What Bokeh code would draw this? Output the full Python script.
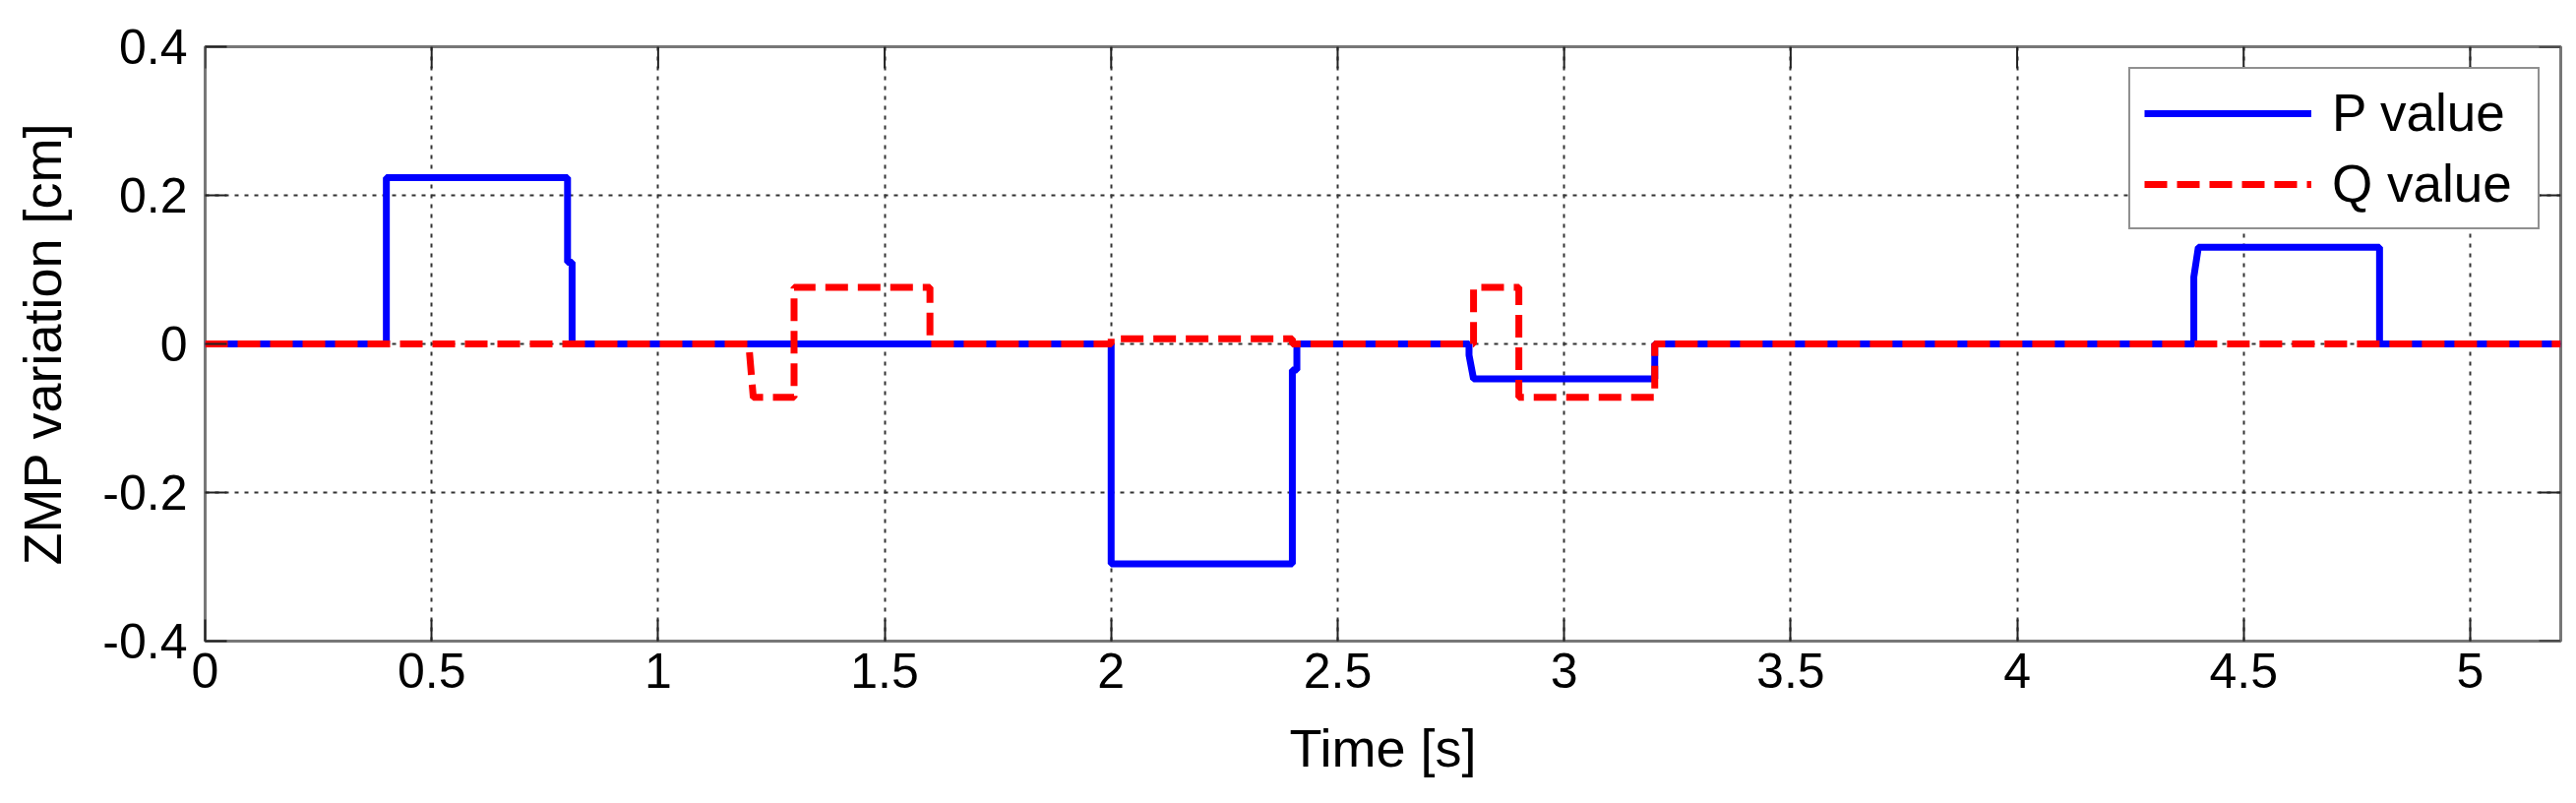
import math
from bokeh.plotting import figure
from bokeh.models import FixedTicker, CustomJSTickFormatter, Legend, LegendItem, Range1d
from bokeh.embed import file_html
from bokeh.resources import INLINE

# ---- data ----
p_time = [0.0, 0.40, 0.40, 0.80, 0.80, 0.81, 0.81, 2.00, 2.00, 2.40, 2.40, 2.41, 2.41,
          2.79, 2.79, 2.80, 3.20, 3.20, 4.39, 4.39, 4.40, 4.80, 4.80, 5.20]
p_value = [0.0, 0.0, 0.224, 0.224, 0.11, 0.11, 0.0, 0.0, -0.296, -0.296, -0.035, -0.035, 0.0,
           0.0, -0.015, -0.047, -0.047, 0.0, 0.0, 0.09, 0.13, 0.13, 0.0, 0.0]

q_time = [0.0, 1.20, 1.21, 1.30, 1.30, 1.60, 1.60, 2.00, 2.00, 2.40, 2.40, 2.80, 2.80,
          2.90, 2.90, 3.20, 3.20, 5.20]
q_value = [0.0, 0.0, -0.072, -0.072, 0.076, 0.076, 0.0, 0.0, 0.007, 0.007, 0.0, 0.0, 0.076,
           0.076, -0.072, -0.072, 0.0, 0.0]

x_ticks = [0, 0.5, 1, 1.5, 2, 2.5, 3, 3.5, 4, 4.5, 5]
y_ticks = [-0.4, -0.2, 0, 0.2, 0.4]
x_min, x_max = 0.0, 5.2
y_min, y_max = -0.4, 0.4

series_labels = ["P value", "Q value"]
x_label = "Time [s]"
y_label = "ZMP variation [cm]"

FONT = "Liberation Sans"
TICK_LEN = 22

p = figure(width=2610, height=808, output_backend="svg", toolbar_location=None,
           x_range=Range1d(x_min, x_max), y_range=Range1d(y_min, y_max),
           min_border_left=208, min_border_right=8, min_border_top=47,
           min_border_bottom=157)
p.background_fill_color = "white"
p.border_fill_color = "white"
p.outline_line_color = "#777777"
p.outline_line_width = 3

fmt = CustomJSTickFormatter(code="return String(+tick.toFixed(2));")

xax = p.xaxis[0]
yax = p.yaxis[0]
for ax, ticks in ((xax, x_ticks), (yax, y_ticks)):
    ax.ticker = FixedTicker(ticks=ticks)
    ax.formatter = fmt
    ax.major_tick_in = TICK_LEN
    ax.major_tick_out = 0
    ax.minor_tick_line_color = None
    ax.major_tick_line_color = "#222222"
    ax.major_tick_line_width = 2
    ax.axis_line_color = None
    ax.major_label_text_font = FONT
    ax.major_label_text_color = "black"
    ax.major_label_text_font_size = "50px"
    ax.axis_label_text_font = FONT
    ax.axis_label_text_font_size = "54px"
    ax.axis_label_text_font_style = "normal"
    ax.axis_label_text_color = "black"
xax.axis_label = x_label
yax.axis_label = y_label
xax.major_label_standoff = 12
yax.major_label_standoff = 18
xax.axis_label_standoff = 28
yax.axis_label_standoff = 28

p.xgrid.ticker = FixedTicker(ticks=x_ticks)
p.ygrid.ticker = FixedTicker(ticks=y_ticks)
p.grid.grid_line_color = "#333333"
p.grid.grid_line_width = 2
p.grid.grid_line_dash = "4 6"

# mirrored inward ticks on the top and right edges of the box
p.ray(x=x_ticks, y=[y_max] * len(x_ticks), length=TICK_LEN, length_units="screen",
      angle=-math.pi / 2, line_color="#222222", line_width=2)
p.ray(x=[x_max] * len(y_ticks), y=y_ticks, length=TICK_LEN, length_units="screen",
      angle=math.pi, line_color="#222222", line_width=2)

rp = p.line(p_time, p_value, line_color="#0000FF", line_width=7)
rq = p.line(q_time, q_value, line_color="#FF0000", line_width=7, line_dash="23 10")

legend = Legend(items=[LegendItem(label=series_labels[0], renderers=[rp]),
                       LegendItem(label=series_labels[1], renderers=[rq])],
                location="top_right", margin=21, padding=14, spacing=11,
                glyph_width=170, glyph_height=60, label_height=60, label_width=195,
                label_standoff=21, label_text_font=FONT, label_text_font_size="53px",
                label_text_color="black",
                border_line_color="#222222", border_line_width=2,
                background_fill_color="white", background_fill_alpha=1.0)
p.add_layout(legend)

with open("out.html", "w") as f:
    f.write(file_html(p, INLINE))
